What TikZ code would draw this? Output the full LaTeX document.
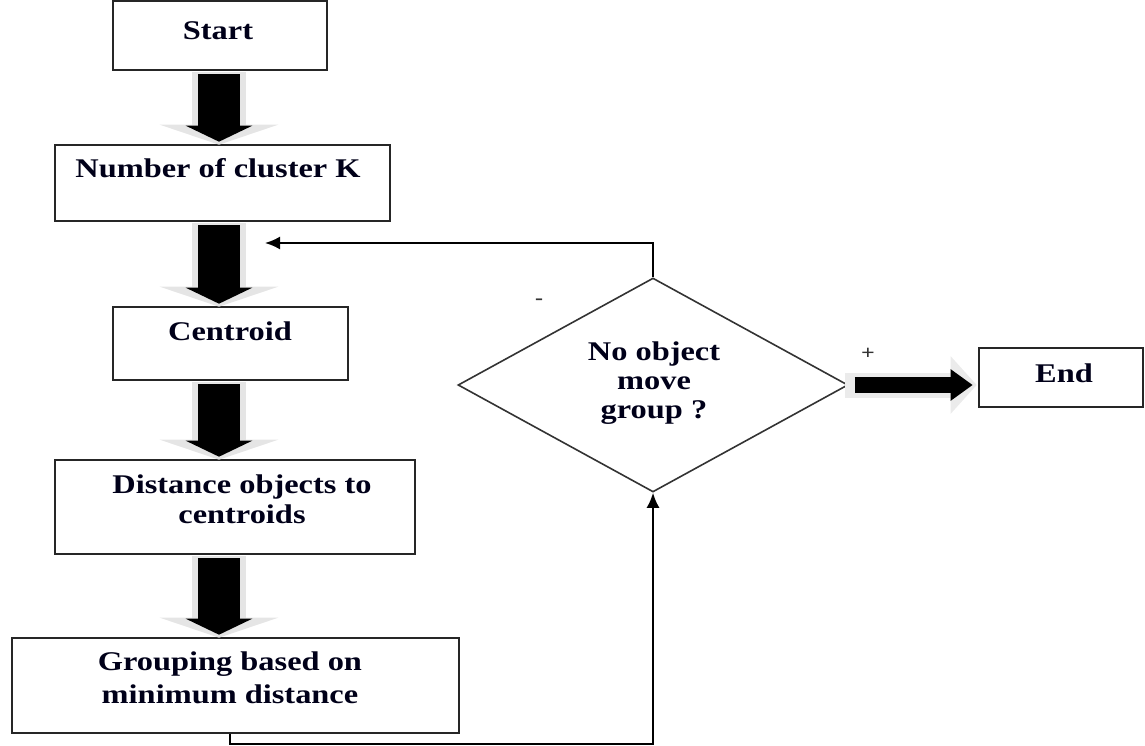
\documentclass[tikz,border=0pt]{standalone}
\usepackage{fontspec}
\setmainfont{Liberation Serif}[FakeStretch=1.2]
\usetikzlibrary{arrows.meta,shapes.geometric,calc}
\begin{document}
\begin{tikzpicture}[x=1pt,y=-1pt,
  box/.style={draw=black!85, line width=2.6pt, inner sep=0pt, fill=white},
  txt/.style={font=\fontsize{27}{30}\selectfont\bfseries, align=center, inner sep=0pt, anchor=base, text=black!90!blue},
  sgn/.style={font=\fontsize{20}{20}\selectfont\bfseries, inner sep=0pt, text=black!80},
  thinarr/.style={draw=black, line width=1.9pt, -{Latex[length=15pt,width=13pt]}},
  glowv/.style={draw=black!10, line width=54pt, -{Triangle[length=20pt,width=118pt]}},
  blkv/.style={draw=black, line width=42pt, -{Triangle[length=16pt,width=66pt]}},
  glowh/.style={draw=black!8, line width=25pt, -{Triangle[length=26pt,width=56pt]}},
  blkh/.style={draw=black, line width=16.5pt, -{Triangle[length=22pt,width=30pt]}},
]
\useasboundingbox (0,0) rectangle (1145,746);

% boxes
\node[box, minimum width=214pt, minimum height=69pt] (start) at (220,35.5) {};
\node[box, minimum width=335pt, minimum height=76pt] (num) at (222.5,183) {};
\node[box, minimum width=235pt, minimum height=73pt] (cen) at (230.5,343.5) {};
\node[box, minimum width=360pt, minimum height=94pt] (dist) at (235,507) {};
\node[box, minimum width=447pt, minimum height=95pt] (grp) at (235.5,685.5) {};
\node[box, minimum width=164pt, minimum height=59pt] (end) at (1061,377.5) {};
\node[draw=black!80, line width=1.6pt, diamond, aspect=1.822, minimum width=390pt, minimum height=214pt, inner sep=0pt] (dia) at (653,385) {};

% texts (base anchor = baseline of the last line)
\node[txt] (tstart) at (218,40) {Start};
\node[txt] (tnum) at (218,178) {Number of cluster K};
\node[txt] (tcen) at (230,340) {Centroid};
\node[txt] (tdist) at (242,523) {Distance objects to\\centroids};
\node[txt, font=\fontsize{27}{33}\selectfont\bfseries] (tgrp) at (230,703) {Grouping based on\\minimum distance};
\node[txt, font=\fontsize{27}{29}\selectfont\bfseries] (tdia) at (654,418) {No object\\move\\group ?};
\node[txt] (tend) at (1064,382) {End};
\node[sgn] (minus) at (539,302) {-};
\node[sgn] (plus) at (868,354) {+};

% block arrows
\coordinate (ax) at (219,0);
\foreach \a/\b in {start/num, num/cen, cen/dist, dist/grp}{
  \draw[glowv] ($(\a.south -| ax)+(0,1)$) -- ($(\b.north -| ax)+(0,1)$);
  \draw[blkv] ($(\a.south -| ax)+(0,3)$) -- ($(\b.north -| ax)+(0,-2)$);
}
\draw[glowh] ($(dia.east)+(-4,0)$) -- ($(dia.east -| end.west)+(-1,0)$);
\draw[blkh] ($(dia.east)+(6,0)$) -- ($(dia.east -| end.west)+(-5,0)$);

% feedback connectors
\coordinate (fb) at (265,243);
\draw[thinarr] (dia.north) |- (fb);
\coordinate (bl) at (230,744);
\draw[thinarr] (grp.south -| bl) -- (bl) -| (dia.south);
\end{tikzpicture}
\end{document}
